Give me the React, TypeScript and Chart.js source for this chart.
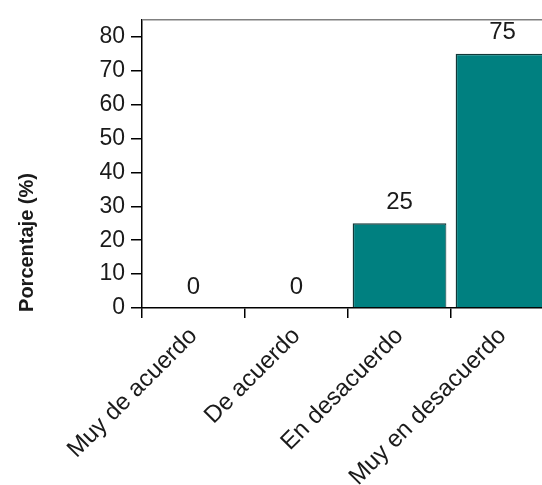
import React, { useEffect, useRef } from "react";
import { Chart, registerables } from "chart.js";

Chart.register(...registerables);

const categories = ["Muy de acuerdo", "De acuerdo", "En desacuerdo", "Muy en desacuerdo"];
const values = [0, 0, 25, 75];
const yTicks = [0, 10, 20, 30, 40, 50, 60, 70, 80];
const yTitle = "Porcentaje (%)";

const FONT = "'Liberation Sans', Arial, sans-serif";

export default function App() {
  const ref = useRef<HTMLCanvasElement | null>(null);

  useEffect(() => {
    if (!ref.current) return;
    const labelPlugin = {
      id: "valueLabels",
      afterDatasetsDraw(chart: any) {
        const ctx = chart.ctx;
        const meta = chart.getDatasetMeta(0);
        ctx.save();
        ctx.font = `24px ${FONT}`;
        ctx.fillStyle = "#1a1a1a";
        ctx.textAlign = "center";
        ctx.textBaseline = "middle";
        meta.data.forEach((el: any, i: number) => {
          ctx.fillText(String(values[i]), el.x, el.y - 21);
        });
        ctx.restore();
      },
    };
    const framePlugin = {
      id: "frame",
      afterDraw(chart: any) {
        const { ctx, chartArea } = chart;
        ctx.save();
        ctx.strokeStyle = "#808080";
        ctx.lineWidth = 1.5;
        ctx.beginPath();
        ctx.moveTo(chartArea.left, chartArea.top);
        ctx.lineTo(chartArea.right, chartArea.top);
        ctx.stroke();
        ctx.font = `bold 20px ${FONT}`;
        ctx.fillStyle = "#1a1a1a";
        ctx.textAlign = "center";
        ctx.textBaseline = "middle";
        ctx.translate(27, chart.height / 2);
        ctx.rotate(-Math.PI / 2);
        ctx.fillText(yTitle, 0, 0);
        ctx.restore();
      },
    };
    const chart = new Chart(ref.current, {
      type: "bar",
      data: {
        labels: categories,
        datasets: [
          {
            data: values,
            backgroundColor: "#008080",
            borderColor: "#123838",
            borderWidth: { left: 1.5, top: 1.5, right: 1, bottom: 0 },
            borderSkipped: false,
            categoryPercentage: 1,
            barPercentage: 0.91,
          },
        ],
      },
      options: {
        animation: false,
        responsive: false,
        layout: { padding: { top: 15, left: 0, right: 0, bottom: 0 } },
        plugins: { legend: { display: false }, tooltip: { enabled: false } },
        scales: {
          x: {
            grid: { offset: true, drawOnChartArea: false, tickLength: 10, color: "#000", lineWidth: 1.5 },
            border: { display: true, color: "#000", width: 1.5 },
            ticks: {
              color: "#1a1a1a",
              font: { family: FONT, size: 24 },
              minRotation: 45,
              maxRotation: 45,
              padding: 4,
            },
            afterFit: (s: any) => {
              s.height = 177;
            },
          },
          y: {
            min: 0,
            max: 85,
            grid: { drawOnChartArea: false, tickLength: 11, color: "#000", lineWidth: 1.5 },
            border: { display: true, color: "#000", width: 1.5 },
            ticks: {
              stepSize: 10,
              color: "#1a1a1a",
              font: { family: FONT, size: 23 },
              padding: 6,
            },
            afterBuildTicks: (s: any) => {
              s.ticks = yTicks.map((v) => ({ value: v }));
            },
            afterFit: (s: any) => {
              s.width = 142;
            },
          },
        },
      },
      plugins: [labelPlugin, framePlugin],
    });
    return () => chart.destroy();
  }, []);

  return (
    <div
      style={{
        position: "fixed",
        left: 0,
        top: 0,
        width: 542,
        height: 485,
        overflow: "hidden",
        background: "#fff",
      }}
    >
      <canvas ref={ref} width={554} height={485} style={{ display: "block" }} />
    </div>
  );
}
